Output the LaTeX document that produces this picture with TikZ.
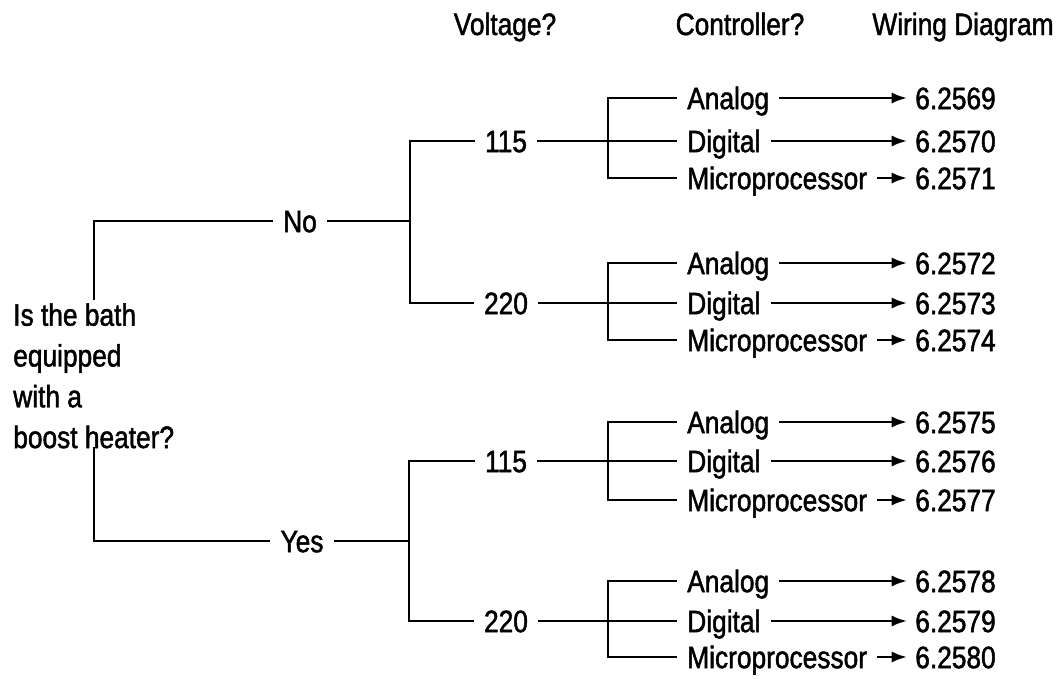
\documentclass[tikz,border=0pt]{standalone}
\usepackage{fontspec}
\setmainfont[FakeStretch=0.85, FakeBold=1.5]{Liberation Sans}
\usetikzlibrary{arrows.meta, positioning}

\begin{document}
\begin{tikzpicture}[
      x=0.025cm, y=-0.025cm,
      txt/.style={inner xsep=0.25cm, inner ysep=0pt, text height=0.556cm,
                  text depth=0pt, font=\fontsize{22}{29}\selectfont},
      ctrl/.style={txt, anchor=west},
      wire/.style={txt, anchor=west, inner xsep=0.2cm},
      head/.style={font=\fontsize{22}{29}\selectfont, anchor=base},
      ln/.style={line width=2pt},
      arr/.style={-{Latex[length=11pt, width=8pt]}, line width=1.8pt}
    ]
    \useasboundingbox (0,0) rectangle (1064,678);
    % column heads
    \node[head] (hv) at (505,35) {Voltage?};
    \node[head] (hc) at (740,35) {Controller?};
    \node[head] (hw) at (963,35) {Wiring Diagram};
    % question and answers
    \node[font=\fontsize{22}{29}\selectfont, align=left, anchor=north west,
          inner sep=0pt] (q) at (13,303) {Is the bath\\equipped\\with a\\boost heater?};
    \node[txt] (no)  at (300,221) {No};
    \node[txt] (yes) at (302,541) {Yes};
    % voltages
    \node[txt] (v1) at (506,141) {115};
    \node[txt] (v2) at (506,303) {220};
    \node[txt] (v3) at (506,461) {115};
    \node[txt] (v4) at (506,621) {220};
    % controllers
    \node[ctrl] (a1) at (677,98)  {Analog};
    \node[ctrl] (d1) at (677,141) {Digital};
    \node[ctrl] (m1) at (677,178) {Microprocessor};
    \node[ctrl] (a2) at (677,263) {Analog};
    \node[ctrl] (d2) at (677,303) {Digital};
    \node[ctrl] (m2) at (677,340) {Microprocessor};
    \node[ctrl] (a3) at (677,422) {Analog};
    \node[ctrl] (d3) at (677,461) {Digital};
    \node[ctrl] (m3) at (677,500) {Microprocessor};
    \node[ctrl] (a4) at (677,581) {Analog};
    \node[ctrl] (d4) at (677,621) {Digital};
    \node[ctrl] (m4) at (677,657) {Microprocessor};
    % wiring diagrams
    \node[wire] (n1)  at (907,98)  {6.2569};
    \node[wire] (n2)  at (907,141) {6.2570};
    \node[wire] (n3)  at (907,178) {6.2571};
    \node[wire] (n4)  at (907,263) {6.2572};
    \node[wire] (n5)  at (907,303) {6.2573};
    \node[wire] (n6)  at (907,340) {6.2574};
    \node[wire] (n7)  at (907,422) {6.2575};
    \node[wire] (n8)  at (907,461) {6.2576};
    \node[wire] (n9)  at (907,500) {6.2577};
    \node[wire] (n10) at (907,581) {6.2578};
    \node[wire] (n11) at (907,621) {6.2579};
    \node[wire] (n12) at (907,657) {6.2580};
    % branch points
    \coordinate (qt) at (94,300);
    \coordinate (qb) at (94,447);
    \coordinate (jn) at (410,221);
    \coordinate (jy) at (409,541);
    \coordinate (k1) at (608,141);
    \coordinate (k2) at (608,303);
    \coordinate (k3) at (608,461);
    \coordinate (k4) at (608,621);
    % tree
    \draw[ln] (qt) |- (no.west);
    \draw[ln] (qb) |- (yes.west);
    \draw[ln] (no.east) -- (jn);
    \draw[ln] (yes.east) -- (jy);
    \draw[ln] (v1.west) -| (jn) |- (v2.west);
    \draw[ln] (v3.west) -| (jy) |- (v4.west);
    \draw[ln] (v1.east) -- (d1.west);
    \draw[ln] (v2.east) -- (d2.west);
    \draw[ln] (v3.east) -- (d3.west);
    \draw[ln] (v4.east) -- (d4.west);
    \draw[ln] (a1.west) -| (k1) |- (m1.west);
    \draw[ln] (a2.west) -| (k2) |- (m2.west);
    \draw[ln] (a3.west) -| (k3) |- (m3.west);
    \draw[ln] (a4.west) -| (k4) |- (m4.west);
    % arrows
    \draw[arr] (a1.east) -- (n1.west);
    \draw[arr] (d1.east) -- (n2.west);
    \draw[arr] (m1.east) -- (n3.west);
    \draw[arr] (a2.east) -- (n4.west);
    \draw[arr] (d2.east) -- (n5.west);
    \draw[arr] (m2.east) -- (n6.west);
    \draw[arr] (a3.east) -- (n7.west);
    \draw[arr] (d3.east) -- (n8.west);
    \draw[arr] (m3.east) -- (n9.west);
    \draw[arr] (a4.east) -- (n10.west);
    \draw[arr] (d4.east) -- (n11.west);
    \draw[arr] (m4.east) -- (n12.west);
  \end{tikzpicture}
\end{document}
